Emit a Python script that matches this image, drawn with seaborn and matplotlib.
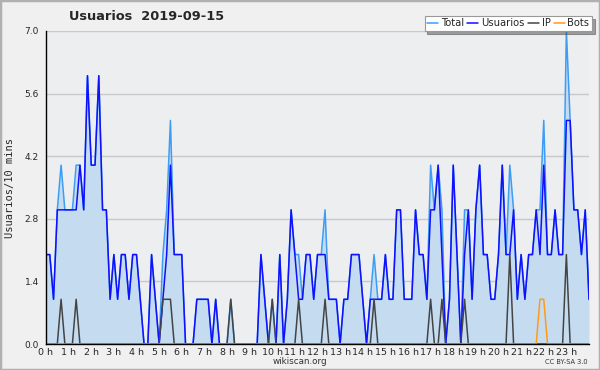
import numpy as np
import pandas as pd
import seaborn as sns
import matplotlib.pyplot as plt
from matplotlib.patches import Rectangle
from matplotlib.ticker import MultipleLocator

# values per 10-minute slot, 2019-09-15 (read hour by hour)
usuarios = [
    2, 2, 1, 3, 3, 3,   # 0 h
    3, 3, 3, 4, 3, 6,   # 1 h
    4, 4, 6, 3, 3, 1,   # 2 h
    2, 1, 2, 2, 1, 2,   # 3 h
    2, 1, 0, 0, 2, 1,   # 4 h
    0, 1, 2, 4, 2, 2,   # 5 h
    2, 0, 0, 0, 1, 1,   # 6 h
    1, 1, 0, 1, 0, 0,   # 7 h
    0, 0, 0, 0, 0, 0,   # 8 h
    0, 0, 0, 2, 1, 0,   # 9 h
    0, 0, 2, 0, 1, 3,   # 10 h
    2, 1, 1, 2, 2, 1,   # 11 h
    2, 2, 2, 1, 1, 1,   # 12 h
    0, 1, 1, 2, 2, 2,   # 13 h
    1, 0, 1, 1, 1, 1,   # 14 h
    2, 1, 1, 3, 3, 1,   # 15 h
    1, 1, 3, 2, 2, 1,   # 16 h
    3, 3, 4, 2, 0, 1,   # 17 h
    4, 2, 0, 2, 3, 1,   # 18 h
    3, 4, 2, 2, 1, 1,   # 19 h
    2, 4, 2, 2, 3, 1,   # 20 h
    2, 1, 2, 2, 3, 2,   # 21 h
    4, 2, 2, 3, 2, 2,   # 22 h
    5, 5, 3, 3, 2, 3,   # 23 h
    1,
]
ip = [
    0, 0, 0, 0, 1, 0,
    0, 0, 1, 0, 0, 0,
    0, 0, 0, 0, 0, 0,
    0, 0, 0, 0, 0, 0,
    0, 0, 0, 0, 0, 0,
    0, 1, 1, 1, 0, 0,
    0, 0, 0, 0, 0, 0,
    0, 0, 0, 0, 0, 0,
    0, 1, 0, 0, 0, 0,
    0, 0, 0, 0, 0, 0,
    1, 0, 0, 0, 0, 0,
    0, 1, 0, 0, 0, 0,
    0, 0, 1, 0, 0, 0,
    0, 0, 0, 0, 0, 0,
    0, 0, 0, 1, 0, 0,
    0, 0, 0, 0, 0, 0,
    0, 0, 0, 0, 0, 0,
    1, 0, 0, 1, 0, 0,
    0, 0, 0, 1, 0, 0,
    0, 0, 0, 0, 0, 0,
    0, 0, 0, 2, 0, 0,
    0, 0, 0, 0, 0, 0,
    0, 0, 0, 0, 0, 0,
    2, 0, 0, 0, 0, 0,
    0,
]
bots = [
    0, 0, 0, 0, 0, 0,
    0, 0, 0, 0, 0, 0,
    0, 0, 0, 0, 0, 0,
    0, 0, 0, 0, 0, 0,
    0, 0, 0, 0, 0, 0,
    0, 0, 0, 0, 0, 0,
    0, 0, 0, 0, 0, 0,
    0, 0, 0, 0, 0, 0,
    0, 0, 0, 0, 0, 0,
    0, 0, 0, 0, 0, 0,
    0, 0, 0, 0, 0, 0,
    0, 0, 0, 0, 0, 0,
    0, 0, 0, 0, 0, 0,
    0, 0, 0, 0, 0, 0,
    0, 0, 0, 0, 0, 0,
    0, 0, 0, 0, 0, 0,
    0, 0, 0, 0, 0, 0,
    0, 0, 0, 0, 0, 0,
    0, 0, 0, 0, 0, 0,
    0, 0, 0, 0, 0, 0,
    0, 0, 0, 0, 0, 0,
    0, 0, 0, 0, 0, 1,
    1, 0, 0, 0, 0, 0,
    0, 0, 0, 0, 0, 0,
    0,
]
total = [
    2, 2, 1, 3, 4, 3,
    3, 3, 4, 4, 3, 6,
    4, 4, 6, 3, 3, 1,
    2, 1, 2, 2, 1, 2,
    2, 1, 0, 0, 2, 1,
    0, 2, 3, 5, 2, 2,
    2, 0, 0, 0, 1, 1,
    1, 1, 0, 1, 0, 0,
    0, 1, 0, 0, 0, 0,
    0, 0, 0, 2, 1, 0,
    1, 0, 2, 0, 1, 3,
    2, 2, 1, 2, 2, 1,
    2, 2, 3, 1, 1, 1,
    0, 1, 1, 2, 2, 2,
    1, 0, 1, 2, 1, 1,
    2, 1, 1, 3, 3, 1,
    1, 1, 3, 2, 2, 1,
    4, 3, 4, 3, 0, 1,
    4, 2, 0, 3, 3, 1,
    3, 4, 2, 2, 1, 1,
    2, 4, 2, 4, 3, 1,
    2, 1, 2, 2, 3, 3,
    5, 2, 2, 3, 2, 2,
    7, 5, 3, 3, 2, 3,
    1,
]
hour_labels = [f'{h} h' for h in range(24)]
y_ticks = [0.0, 1.4, 2.8, 4.2, 5.6, 7.0]

df = pd.DataFrame({'Total': total, 'Usuarios': usuarios, 'IP': ip, 'Bots': bots})
df['hora'] = np.arange(len(df)) / 6

colors = {'Total': '#3d9df5', 'Usuarios': '#1010ff', 'IP': '#444444', 'Bots': '#ff9a1a'}

sns.set_style('white')
plt.rcParams['font.family'] = ['DejaVu Sans']

fig = plt.figure(figsize=(6, 3.7), dpi=100, facecolor='#f0f0f0')
ax = fig.add_axes([46 / 600, 1 - 344 / 370, 543 / 600, 313 / 370])
ax.set_facecolor('#eceef0')

ax.fill_between(df['hora'], df['Total'], color='#c5dcf0', lw=0, zorder=1)
for name in ['Total', 'Usuarios', 'IP', 'Bots']:
    sns.lineplot(data=df, x='hora', y=name, ax=ax, color=colors[name], lw=1.1,
                 label=name, zorder=3)

ax.set_xlim(0, 24)
ax.set_ylim(0, 7)
ax.set_xticks(range(24))
ax.set_xticklabels(hour_labels)
ax.xaxis.set_minor_locator(MultipleLocator(1 / 6))
ax.set_yticks(y_ticks)
ax.set_yticklabels([f'{t:.1f}' for t in y_ticks])
ax.yaxis.set_minor_locator(MultipleLocator(0.35))
ax.tick_params(axis='both', which='major', labelsize=6.5, length=4, width=0.8,
               color='black', pad=1, direction='out')
ax.tick_params(axis='both', which='minor', length=2.5, width=0.8, color='black',
               direction='out')
ax.tick_params(axis='x', which='major', labelsize=6.8, length=3, pad=0)
ax.grid(axis='y', color='#c8c8c8', lw=1)
ax.set_axisbelow(True)
for side in ['top', 'right']:
    ax.spines[side].set_visible(False)
for side in ['left', 'bottom']:
    ax.spines[side].set_color('black')
    ax.spines[side].set_linewidth(1)
    ax.spines[side].set_zorder(5)
ax.set_xlabel('')
ax.set_ylabel('')

leg = ax.legend(loc='upper right', bbox_to_anchor=(592 / 600, 1 - 16 / 370),
                bbox_transform=fig.transFigure, ncol=4, fontsize=7.2,
                handlelength=1.1, handletextpad=0.3, columnspacing=0.3,
                borderpad=0.25, frameon=True, fancybox=False, shadow=True,
                borderaxespad=0)
leg.get_frame().set_edgecolor('#999999')
leg.get_frame().set_facecolor('white')
leg.get_frame().set_linewidth(0.8)

fig.text(147 / 600, 1 - 17 / 370, 'Usuarios  2019-09-15', ha='center', va='center',
         fontsize=9.3, fontweight='bold')
fig.text(10 / 600, 1 - 188 / 370, 'Usuarios/10 mins', rotation=90, ha='center',
         va='center', fontsize=7.5, family='DejaVu Sans Mono')
fig.text(300 / 600, 1 - 362 / 370, 'wikiscan.org', ha='center', va='center',
         fontsize=6.3, color='#333333')
fig.text(566 / 600, 1 - 362 / 370, 'CC BY-SA 3.0', ha='center', va='center',
         fontsize=4.8, color='#333333')

fig.patches.append(Rectangle((0, 0), 1, 1, transform=fig.transFigure, fill=False,
                             edgecolor='#b0b0b0', lw=2.5))

fig.savefig('out.png', dpi=100, facecolor=fig.get_facecolor())
